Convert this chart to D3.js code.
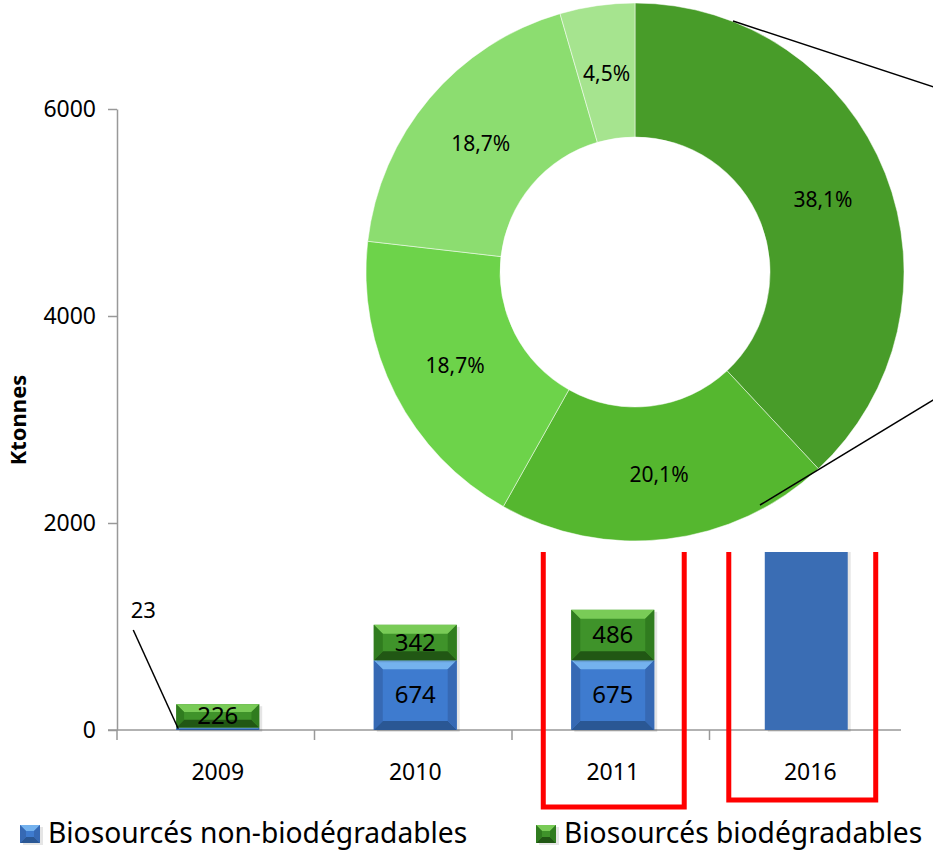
<!DOCTYPE html>
<html>
<head>
<meta charset="utf-8">
<script src="https://cdn.jsdelivr.net/npm/d3@7"></script>
<style>
  body { margin: 0; background: #fff; }
  svg { font-family: "Noto Sans", "Open Sans", sans-serif; }
</style>
</head>
<body>
<svg width="933" height="850"></svg>
<script>
// data
const years = ["2009", "2010", "2011", "2016"];
const nonBio = [23, 674, 675, 5200];
const bio = [226, 342, 486, 0];
const yTicks = [0, 2000, 4000, 6000];
const shares = [38.1, 20.1, 18.7, 18.7, 4.5];
const shareLabels = ["38,1%", "20,1%", "18,7%", "18,7%", "4,5%"];
const shareColors = ["#489c29", "#55b72f", "#6dd34a", "#8cdd70", "#a6e48f"];
const legendNames = ["Biosourcés non-biodégradables", "Biosourcés biodégradables"];

let svg = d3.select("svg");

let x = d3.scaleBand().domain(years).range([119, 909]).paddingInner(0.58).paddingOuter(0.29);
let y = d3.scaleLinear().domain([0, 6000]).range([730, 109]);

// y axis
let yAxis = svg.append("g")
    .attr("transform", "translate(117,0)")
    .call(d3.axisLeft(y).tickValues(yTicks).tickFormat(d3.format("d")).tickSize(9).tickSizeOuter(0).tickPadding(12));
yAxis.attr("font-family", null).attr("font-size", null);
yAxis.select(".domain").attr("stroke", "#999").attr("stroke-width", 1.5);
yAxis.selectAll(".tick line").attr("stroke", "#999").attr("stroke-width", 1.5);
yAxis.selectAll("text").style("font-size", "23px").attr("fill", "#000");

// x axis line + ticks on band edges
let x0 = x.range()[0], step = x.step();
svg.append("line")
    .attr("x1", 108).attr("x2", x.range()[1] - 8).attr("y1", y(0)).attr("y2", y(0))
    .attr("stroke", "#999").attr("stroke-width", 1.5);
svg.selectAll(".xtick")
    .data(d3.range(years.length))
    .enter().append("line")
    .attr("x1", i => x0 - 2 + i * step).attr("x2", i => x0 - 2 + i * step)
    .attr("y1", y(0)).attr("y2", y(0) + 10)
    .attr("stroke", "#999").attr("stroke-width", 1.5);
svg.selectAll(".xlab")
    .data(years)
    .enter().append("text")
    .attr("x", d => x(d) + x.bandwidth() / 2)
    .attr("y", 780)
    .attr("text-anchor", "middle")
    .attr("font-size", 23)
    .text(d => d);

// axis title
svg.append("text")
    .attr("transform", "translate(26,420) rotate(-90)")
    .attr("text-anchor", "middle")
    .attr("font-size", 22)
    .attr("font-weight", "bold")
    .text("Ktonnes");

// bevelled bar segment
const pal = {
  blue:  {main: "#3e7bcf", top: "#74b2ee", bottom: "#2a5794", side: "#3669b4"},
  green: {main: "#3f932a", top: "#79cb57", bottom: "#215714", side: "#307c1f"}
};
function bevelRect(g, bx, by, w, h, c) {
  let b = Math.min(9, h / 3);
  g.append("rect").attr("x", bx + 3).attr("y", by + 2).attr("width", w).attr("height", h)
      .attr("fill", "#000").attr("opacity", 0.1);
  g.append("rect").attr("x", bx).attr("y", by).attr("width", w).attr("height", h).attr("fill", c.main);
  let pts = (a) => a.map(p => p.join(",")).join(" ");
  g.append("polygon").attr("points", pts([[bx, by], [bx + w, by], [bx + w - b, by + b], [bx + b, by + b]])).attr("fill", c.top);
  g.append("polygon").attr("points", pts([[bx, by + h], [bx + w, by + h], [bx + w - b, by + h - b], [bx + b, by + h - b]])).attr("fill", c.bottom);
  g.append("polygon").attr("points", pts([[bx, by], [bx + b, by + b], [bx + b, by + h - b], [bx, by + h]])).attr("fill", c.side);
  g.append("polygon").attr("points", pts([[bx + w, by], [bx + w - b, by + b], [bx + w - b, by + h - b], [bx + w, by + h]])).attr("fill", c.side);
}

let bars = svg.append("g");
years.forEach(function(yr, i) {
  let bx = x(yr), w = x.bandwidth();
  if (yr === "2016") {
    bars.append("rect").attr("x", bx - 4 + 3).attr("y", y(nonBio[i]) + 2).attr("width", w).attr("height", y(0) - y(nonBio[i]))
        .attr("fill", "#000").attr("opacity", 0.1);
    bars.append("rect").attr("x", bx - 4).attr("y", y(nonBio[i])).attr("width", w).attr("height", y(0) - y(nonBio[i]))
        .attr("fill", "#3a6db4");
    return;
  }
  if (nonBio[i] > 0) bevelRect(bars, bx, y(nonBio[i]), w, y(0) - y(nonBio[i]), pal.blue);
  if (bio[i] > 0) bevelRect(bars, bx, y(nonBio[i] + bio[i]), w, y(nonBio[i]) - y(nonBio[i] + bio[i]), pal.green);
});

// labels in bars
years.forEach(function(yr, i) {
  let cx = x(yr) + x.bandwidth() / 2;
  if (yr === "2016") return;
  if (nonBio[i] > 100) {
    svg.append("text").attr("x", cx).attr("y", (y(0) + y(nonBio[i])) / 2 + 8)
        .attr("text-anchor", "middle").attr("font-size", 24).text(nonBio[i]);
  } else {
    // small value: label outside with leader line
    svg.append("text").attr("x", x(yr) - 33).attr("y", y(0) - 112)
        .attr("text-anchor", "middle").attr("font-size", 22).text(nonBio[i]);
    svg.append("line")
        .attr("x1", x(yr) - 43).attr("y1", y(0) - 100)
        .attr("x2", x(yr) + 2).attr("y2", y(nonBio[i] / 2))
        .attr("stroke", "#000").attr("stroke-width", 1.5);
  }
  svg.append("text").attr("x", cx).attr("y", (y(nonBio[i]) + y(nonBio[i] + bio[i])) / 2 + 8)
      .attr("text-anchor", "middle").attr("font-size", 24).text(bio[i]);
});

// white panel of the pasted donut
svg.append("rect").attr("x", 540).attr("y", 0).attr("width", 393).attr("height", 552).attr("fill", "#fff");

// red frames around 2011 and 2016
[["2011", 807, 28, 30], ["2016", 800, 40, 24]].forEach(function(f) {
  let bx = x(f[0]);
  svg.append("path")
      .attr("d", d3.line()([[bx - f[2], 552], [bx - f[2], f[1]], [bx + x.bandwidth() + f[3], f[1]], [bx + x.bandwidth() + f[3], 552]]))
      .attr("fill", "none").attr("stroke", "#ff0000").attr("stroke-width", 5);
});

// donut
let donut = svg.append("g").attr("transform", "translate(635,272)");
let pie = d3.pie().sort(null).value(d => d);
let arc = d3.arc().innerRadius(135).outerRadius(269);
let labelArc = d3.arc().innerRadius(202).outerRadius(202);
let arcs = pie(shares);
donut.selectAll("path")
    .data(arcs)
    .enter().append("path")
    .attr("d", arc)
    .attr("fill", (d, i) => shareColors[i])
    .attr("stroke", "#fff").attr("stroke-width", 0.5);
donut.selectAll("text")
    .data(arcs)
    .enter().append("text")
    .attr("transform", d => "translate(" + labelArc.centroid(d) + ")")
    .attr("dy", "0.45em")
    .attr("text-anchor", "middle")
    .attr("font-size", 21)
    .text((d, i) => shareLabels[i]);

// zoom leader lines
svg.append("line").attr("x1", 733).attr("y1", 21).attr("x2", 940).attr("y2", 89)
    .attr("stroke", "#000").attr("stroke-width", 1.5);
svg.append("line").attr("x1", 760).attr("y1", 505).attr("x2", 940).attr("y2", 396)
    .attr("stroke", "#000").attr("stroke-width", 1.5);

// legend
let legend = svg.append("g");
[[20, pal.blue], [536, pal.green]].forEach(function(l, i) {
  bevelRect(legend, l[0], 825, 20, 18, l[1]);
  legend.append("text").attr("x", l[0] + 28).attr("y", 843)
      .attr("font-size", 28.2).text(legendNames[i]);
});
</script>
</body>
</html>
